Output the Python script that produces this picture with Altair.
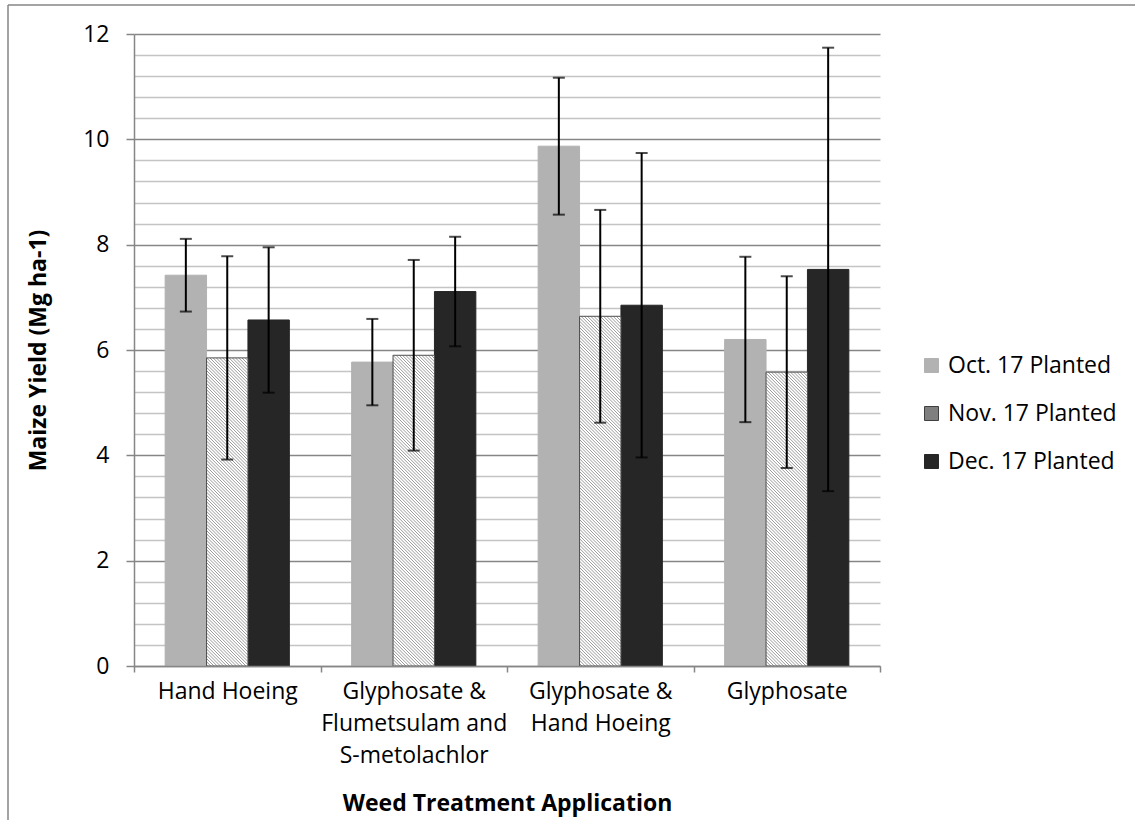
import altair as alt
import pandas as pd

# ---- data ------------------------------------------------------------
categories = [
    "Hand Hoeing",
    "Glyphosate & Flumetsulam and S-metolachlor",
    "Glyphosate & Hand Hoeing",
    "Glyphosate",
]
category_lines = [
    ["Hand Hoeing"],
    ["Glyphosate &", "Flumetsulam and", "S-metolachlor"],
    ["Glyphosate &", "Hand Hoeing"],
    ["Glyphosate"],
]
series = ["Oct. 17 Planted", "Nov. 17 Planted", "Dec. 17 Planted"]

oct_yield = [7.42, 5.77, 9.87, 6.20]
nov_yield = [5.85, 5.90, 6.64, 5.58]
dec_yield = [6.57, 7.11, 6.85, 7.53]

oct_err = [0.69, 0.82, 1.30, 1.57]
nov_err = [1.93, 1.81, 2.02, 1.82]
dec_err = [1.38, 1.04, 2.89, 4.21]

# ---- layout / style --------------------------------------------------
W, H = 746, 632
Y_MAX = 12
N_GROUPS = len(categories)
BAR_W = 0.222            # bar width in group units
FONT = "Open Sans"
FS = 23
AXIS_GRAY = "#868686"
MINOR_GRAY = "#c4c4c4"
series_fill = ["#b2b2b2", "#7f7f7f", "#262626"]
series_stroke = ["#b2b2b2", "#404040", "#262626"]

values = [oct_yield, nov_yield, dec_yield]
errors = [oct_err, nov_err, dec_err]

rows = []
for gi, cat in enumerate(categories):
    for si, s in enumerate(series):
        c = gi + 0.5 + (si - 1) * BAR_W
        v = values[si][gi]
        e = errors[si][gi]
        rows.append(dict(category=cat, series=s, center=c,
                         x0=c - BAR_W / 2, x1=c + BAR_W / 2,
                         base=0.0, value=v, lo=v - e, hi=v + e))
bars = pd.DataFrame(rows)

solid = bars[bars.series != series[1]]
hatched = bars[bars.series == series[1]]

# diagonal hatch for the Nov. series, clipped to each bar (45 deg on screen)
KX = W / N_GROUPS        # px per group unit
KY = H / Y_MAX           # px per yield unit
STEP = 3.2               # px between hatch lines
hatch_rows = []
for _, r in hatched.iterrows():
    X0, X1, HB = r.x0 * KX, r.x1 * KX, r.value * KY
    k = int(X0 // STEP) + 1
    while k * STEP < X1 + HB:
        cc = k * STEP
        xa, xb = max(X0, cc - HB), min(X1, cc)
        if xb > xa:
            hatch_rows.append(dict(hx=xa / KX, hx2=xb / KX,
                                   hy=(cc - xa) / KY, hy2=(cc - xb) / KY))
        k += 1
hatch = pd.DataFrame(hatch_rows)

caps = pd.concat([
    bars[["center", "lo"]].rename(columns={"lo": "yv"}),
    bars[["center", "hi"]].rename(columns={"hi": "yv"}),
])

# ---- scales / axes ----------------------------------------------------
x_scale = alt.Scale(domain=[0, N_GROUPS], nice=False, zero=False)
y_scale = alt.Scale(domain=[0, Y_MAX], nice=False)

x_tick_values = [i * 0.5 for i in range(2 * N_GROUPS + 1)]
label_expr = "''"
for gi in reversed(range(N_GROUPS)):
    arr = "[" + ",".join("'" + t + "'" for t in category_lines[gi]) + "]"
    label_expr = f"datum.value == {gi + 0.5} ? {arr} : ({label_expr})"

x_axis = alt.Axis(
    values=x_tick_values, tickCount=len(x_tick_values) + 2,
    labelExpr=label_expr, grid=False,
    tickSize=6, tickColor=AXIS_GRAY, tickWidth=1.5,
    tickOpacity={"condition": {"test": "datum.value % 1 == 0", "value": 1}, "value": 0},
    domainColor=AXIS_GRAY, domainWidth=1.5,
    labelFont=FONT, labelFontSize=FS, labelColor="black",
    labelAlign="center", labelBaseline="top", labelPadding=8,
    labelLineHeight=32, labelOverlap=False, labelFlush=False, labelBound=False,
    labelLimit=400,
    title="Weed Treatment Application", titleFont=FONT, titleFontSize=FS,
    titleFontWeight="bold", titleColor="black",
    titleX=W / 2, titleY=137, titleBaseline="middle", titleAlign="center",
    zindex=1,
)

y_grid_values = [round(k * 0.4, 1) for k in range(int(Y_MAX / 0.4) + 1)]
y_axis = alt.Axis(
    values=y_grid_values, tickCount=len(y_grid_values) + 5,
    labelExpr="datum.value % 2 == 0 ? format(datum.value, '.0f') : ''",
    grid=True, gridWidth=1.3,
    gridColor={"condition": {"test": "datum.value % 2 == 0", "value": AXIS_GRAY},
               "value": MINOR_GRAY},
    tickSize=8, tickColor=AXIS_GRAY, tickWidth=1.5,
    tickOpacity={"condition": {"test": "datum.value % 2 == 0", "value": 1}, "value": 0},
    domainColor=AXIS_GRAY, domainWidth=1.5,
    labelFont=FONT, labelFontSize=FS, labelColor="black", labelPadding=17,
    labelOverlap=False,
    title="Maize Yield (Mg ha-1)", titleFont=FONT, titleFontSize=FS,
    titleFontWeight="bold", titleColor="black",
    titleX=-96, titleY=H / 2, titleAngle=270, titleBaseline="middle",
    titleAlign="center",
)

color_scale = alt.Scale(domain=series, range=series_fill)
stroke_scale = alt.Scale(domain=series, range=series_stroke)
legend = alt.Legend(
    title=None, orient="none", legendX=786, legendY=320,
    symbolType="square", symbolSize=196, symbolStrokeWidth=1,
    labelFont=FONT, labelFontSize=FS, labelColor="black",
    labelOffset=5, rowPadding=24, labelLimit=300,
)

# ---- layers -------------------------------------------------------------
solid_bars = alt.Chart(solid).mark_bar(strokeWidth=1).encode(
    x=alt.X("x0:Q", scale=x_scale, axis=x_axis),
    x2="x1:Q",
    y=alt.Y("value:Q", scale=y_scale, axis=y_axis),
    y2="base:Q",
    color=alt.Color("series:N", scale=color_scale, legend=legend),
    stroke=alt.Stroke("series:N", scale=stroke_scale, legend=legend),
)

nov_base = alt.Chart(hatched).mark_bar(color="white").encode(
    x="x0:Q", x2="x1:Q", y="value:Q", y2="base:Q",
)

nov_hatch = alt.Chart(hatch).mark_rule(color="#9a9a9a", strokeWidth=1.0).encode(
    x="hx:Q", x2="hx2:Q", y="hy:Q", y2="hy2:Q",
)

nov_outline = alt.Chart(hatched).mark_bar(
    fillOpacity=0, stroke="#4d4d4d", strokeWidth=1
).encode(x="x0:Q", x2="x1:Q", y="value:Q", y2="base:Q")

whiskers = alt.Chart(bars).mark_rule(color="black", strokeWidth=2).encode(
    x="center:Q", y="lo:Q", y2="hi:Q",
)

whisker_caps = alt.Chart(caps).mark_tick(
    orient="horizontal", size=12, thickness=2, color="black"
).encode(x="center:Q", y="yv:Q")

frame_data = pd.DataFrame({"k": [0]})
frame_left = alt.Chart(frame_data).mark_rule(color=AXIS_GRAY, strokeWidth=1.5).encode(
    x=alt.value(-126), y=alt.value(-29), y2=alt.value(790),
)
frame_top = alt.Chart(frame_data).mark_rule(color=AXIS_GRAY, strokeWidth=1.5).encode(
    x=alt.value(-126), x2=alt.value(1010), y=alt.value(-29),
)

chart = alt.layer(
    solid_bars, nov_base, nov_hatch, nov_outline, whiskers, whisker_caps,
    frame_left, frame_top,
).properties(
    width=W, height=H,
    autosize=alt.AutoSizeParams(type="none"),
    padding={"left": 134, "top": 34, "right": 255, "bottom": 154},
    background="white",
).configure_view(strokeWidth=0)

chart.save("out.html", embed_options={"renderer": "svg", "actions": False})
